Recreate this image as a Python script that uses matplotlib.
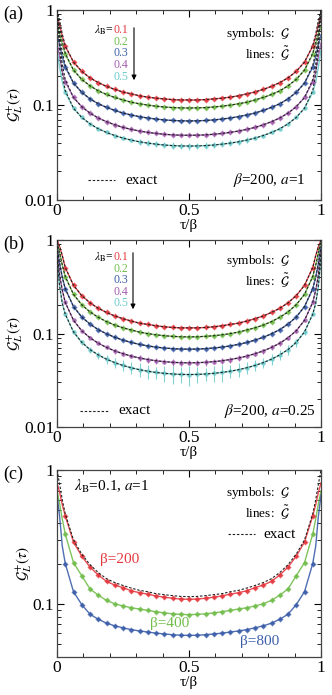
import matplotlib
matplotlib.use("Agg")
import matplotlib.pyplot as plt
from matplotlib.ticker import FixedLocator, LogLocator, NullFormatter, FixedFormatter

plt.rcParams['font.family'] = ['Liberation Serif', 'DejaVu Serif']
plt.rcParams['mathtext.fontset'] = 'stix'

W, H = 332, 695

# ---------------- data ----------------
tau = [0, 0.01, 0.02, 0.03125, 0.0625, 0.09375, 0.125, 0.15625, 0.1875, 0.21875, 0.25,
       0.28125, 0.3125, 0.34375, 0.375, 0.40625, 0.4375, 0.46875, 0.5,
       0.53125, 0.5625, 0.59375, 0.625, 0.65625, 0.6875, 0.71875, 0.75, 0.78125,
       0.8125, 0.84375, 0.875, 0.90625, 0.9375, 0.96875, 0.98, 0.99, 1]

lambda_labels = ['0.1', '0.2', '0.3', '0.4', '0.5']

# panel (a): beta=200, a=1
a_l1 = [0.85, 0.70, 0.53, 0.415, 0.283, 0.226, 0.193, 0.172, 0.157, 0.146, 0.137, 0.131, 0.125, 0.121, 0.118, 0.116, 0.114, 0.113, 0.113,
        0.113, 0.114, 0.116, 0.118, 0.121, 0.125, 0.131, 0.137, 0.146, 0.157, 0.172, 0.193, 0.226, 0.283, 0.415, 0.53, 0.70, 0.85]
a_l2 = [0.67, 0.56, 0.44, 0.341, 0.233, 0.186, 0.159, 0.141, 0.129, 0.120, 0.113, 0.107, 0.103, 0.0998, 0.0972, 0.0953, 0.094, 0.0933, 0.093,
        0.0933, 0.094, 0.0953, 0.0972, 0.0998, 0.103, 0.107, 0.113, 0.120, 0.129, 0.141, 0.159, 0.186, 0.233, 0.341, 0.44, 0.56, 0.67]
a_l3 = [0.55, 0.43, 0.32, 0.250, 0.170, 0.136, 0.116, 0.103, 0.0945, 0.0877, 0.0823, 0.0785, 0.0754, 0.0730, 0.0711, 0.0697, 0.0687, 0.0682, 0.068,
        0.0682, 0.0687, 0.0697, 0.0711, 0.0730, 0.0754, 0.0785, 0.0823, 0.0877, 0.0945, 0.103, 0.116, 0.136, 0.170, 0.250, 0.32, 0.43, 0.55]
a_l4 = [0.45, 0.32, 0.226, 0.176, 0.120, 0.096, 0.0821, 0.073, 0.0667, 0.0619, 0.0581, 0.0554, 0.0532, 0.0515, 0.0502, 0.0492, 0.0485, 0.0481, 0.048,
        0.0481, 0.0485, 0.0492, 0.0502, 0.0515, 0.0532, 0.0554, 0.0581, 0.0619, 0.0667, 0.073, 0.0821, 0.096, 0.120, 0.176, 0.226, 0.32, 0.45]
a_l5 = [0.38, 0.25, 0.174, 0.136, 0.0925, 0.074, 0.0633, 0.0562, 0.0514, 0.0477, 0.0448, 0.0427, 0.0410, 0.0397, 0.0387, 0.0379, 0.0374, 0.0371, 0.037,
        0.0371, 0.0374, 0.0379, 0.0387, 0.0397, 0.0410, 0.0427, 0.0448, 0.0477, 0.0514, 0.0562, 0.0633, 0.074, 0.0925, 0.136, 0.174, 0.25, 0.38]
a_e1 = [1.0, 0.78, 0.56, 0.42, 0.283, 0.226, 0.193, 0.172, 0.157, 0.146, 0.137, 0.131, 0.125, 0.121, 0.118, 0.116, 0.114, 0.113, 0.113,
        0.113, 0.114, 0.116, 0.118, 0.121, 0.125, 0.131, 0.137, 0.146, 0.157, 0.172, 0.193, 0.226, 0.283, 0.42, 0.56, 0.78, 1.0]
a_e2 = [1.0, 0.66, 0.47, 0.35, 0.233, 0.186, 0.159, 0.141, 0.129, 0.120, 0.113, 0.107, 0.103, 0.0998, 0.0972, 0.0953, 0.094, 0.0933, 0.093,
        0.0933, 0.094, 0.0953, 0.0972, 0.0998, 0.103, 0.107, 0.113, 0.120, 0.129, 0.141, 0.159, 0.186, 0.233, 0.35, 0.47, 0.66, 1.0]
a_e3 = [1.0, 0.55, 0.36, 0.26, 0.170, 0.136, 0.116, 0.103, 0.0945, 0.0877, 0.0823, 0.0785, 0.0754, 0.0730, 0.0711, 0.0697, 0.0687, 0.0682, 0.068,
        0.0682, 0.0687, 0.0697, 0.0711, 0.0730, 0.0754, 0.0785, 0.0823, 0.0877, 0.0945, 0.103, 0.116, 0.136, 0.170, 0.26, 0.36, 0.55, 1.0]
a_e4 = [1.0, 0.45, 0.27, 0.185, 0.120, 0.096, 0.0821, 0.073, 0.0667, 0.0619, 0.0581, 0.0554, 0.0532, 0.0515, 0.0502, 0.0492, 0.0485, 0.0481, 0.048,
        0.0481, 0.0485, 0.0492, 0.0502, 0.0515, 0.0532, 0.0554, 0.0581, 0.0619, 0.0667, 0.073, 0.0821, 0.096, 0.120, 0.185, 0.27, 0.45, 1.0]
a_e5 = [1.0, 0.38, 0.21, 0.142, 0.0925, 0.074, 0.0633, 0.0562, 0.0514, 0.0477, 0.0448, 0.0427, 0.0410, 0.0397, 0.0387, 0.0379, 0.0374, 0.0371, 0.037,
        0.0371, 0.0374, 0.0379, 0.0387, 0.0397, 0.0410, 0.0427, 0.0448, 0.0477, 0.0514, 0.0562, 0.0633, 0.074, 0.0925, 0.142, 0.21, 0.38, 1.0]
a_err5 = [0.004, 0.003, 0.002, 0.002, 0.002, 0.002, 0.002, 0.002, 0.002, 0.003, 0.003, 0.003, 0.003, 0.003, 0.003, 0.003,
          0.003, 0.003, 0.003, 0.003, 0.003, 0.003, 0.003, 0.002, 0.002, 0.002, 0.002, 0.002, 0.002, 0.003, 0.004]

# panel (b): beta=200, a=0.25
b_l1 = [1.0, 0.85, 0.68, 0.508, 0.328, 0.254, 0.213, 0.186, 0.168, 0.154, 0.144, 0.136, 0.129, 0.125, 0.121, 0.118, 0.116, 0.115, 0.115,
        0.115, 0.116, 0.118, 0.121, 0.125, 0.129, 0.136, 0.144, 0.154, 0.168, 0.186, 0.213, 0.254, 0.328, 0.508, 0.68, 0.85, 1.0]
b_l2 = [0.95, 0.72, 0.54, 0.407, 0.262, 0.203, 0.170, 0.149, 0.134, 0.123, 0.115, 0.109, 0.1035, 0.0997, 0.0968, 0.0947, 0.0932, 0.0923, 0.092,
        0.0923, 0.0932, 0.0947, 0.0968, 0.0997, 0.1035, 0.109, 0.115, 0.123, 0.134, 0.149, 0.170, 0.203, 0.262, 0.407, 0.54, 0.72, 0.95]
b_l3 = [0.85, 0.56, 0.40, 0.301, 0.194, 0.150, 0.126, 0.110, 0.0993, 0.0911, 0.085, 0.0802, 0.0765, 0.0737, 0.0715, 0.070, 0.0689, 0.0682, 0.068,
        0.0682, 0.0689, 0.070, 0.0715, 0.0737, 0.0765, 0.0802, 0.085, 0.0911, 0.0993, 0.110, 0.126, 0.150, 0.194, 0.301, 0.40, 0.56, 0.85]
b_l4 = [0.75, 0.42, 0.29, 0.215, 0.1385, 0.107, 0.090, 0.0787, 0.071, 0.0651, 0.0608, 0.0573, 0.0547, 0.0527, 0.0511, 0.050, 0.0492, 0.0487, 0.0486,
        0.0487, 0.0492, 0.050, 0.0511, 0.0527, 0.0547, 0.0573, 0.0608, 0.0651, 0.071, 0.0787, 0.090, 0.107, 0.1385, 0.215, 0.29, 0.42, 0.75]
b_l5 = [0.65, 0.32, 0.21, 0.161, 0.104, 0.0804, 0.0673, 0.059, 0.0531, 0.0488, 0.0455, 0.043, 0.041, 0.0395, 0.0383, 0.0375, 0.0369, 0.0365, 0.0364,
        0.0365, 0.0369, 0.0375, 0.0383, 0.0395, 0.041, 0.043, 0.0455, 0.0488, 0.0531, 0.059, 0.0673, 0.0804, 0.104, 0.161, 0.21, 0.32, 0.65]
b_err4 = [0.006, 0.004, 0.003, 0.003, 0.003, 0.003, 0.004, 0.004, 0.003, 0.004, 0.004, 0.004, 0.003, 0.004, 0.004, 0.003,
          0.004, 0.004, 0.003, 0.004, 0.004, 0.004, 0.003, 0.004, 0.004, 0.004, 0.005, 0.005, 0.006, 0.005, 0.006]
b_err5 = [0.008, 0.006, 0.005, 0.005, 0.005, 0.006, 0.006, 0.006, 0.006, 0.007, 0.007, 0.006, 0.007, 0.008, 0.007, 0.009,
          0.007, 0.006, 0.007, 0.008, 0.006, 0.007, 0.006, 0.006, 0.006, 0.007, 0.007, 0.008, 0.008, 0.007, 0.008]

# panel (c): lambda_B=0.1, a=1
c_labels = ['\u03b2=200', '\u03b2=400', '\u03b2=800']
c_200 = [0.8, 0.68, 0.55, 0.454, 0.289, 0.227, 0.188, 0.164, 0.147, 0.138, 0.132, 0.125, 0.121, 0.118, 0.1145, 0.112, 0.110, 0.1085, 0.108,
         0.1085, 0.110, 0.112, 0.1145, 0.118, 0.121, 0.125, 0.132, 0.138, 0.147, 0.164, 0.188, 0.227, 0.289, 0.454, 0.55, 0.68, 0.8]
c_400 = [0.7, 0.56, 0.43, 0.332, 0.203, 0.162, 0.129, 0.116, 0.106, 0.100, 0.0963, 0.0934, 0.0913, 0.0892, 0.0872, 0.0855, 0.0842, 0.0833, 0.083,
         0.0833, 0.0842, 0.0855, 0.0872, 0.0892, 0.0913, 0.0934, 0.0963, 0.100, 0.106, 0.116, 0.129, 0.162, 0.203, 0.332, 0.43, 0.56, 0.7]
c_800 = [0.65, 0.45, 0.27, 0.200, 0.123, 0.0986, 0.0835, 0.0766, 0.0716, 0.0684, 0.0661, 0.0641, 0.0626, 0.0615, 0.0603, 0.0595, 0.0587, 0.0582, 0.058,
         0.0582, 0.0587, 0.0595, 0.0603, 0.0615, 0.0626, 0.0641, 0.0661, 0.0684, 0.0716, 0.0766, 0.0835, 0.0986, 0.123, 0.200, 0.27, 0.45, 0.65]
c_exact = [1.0, 0.78, 0.6, 0.47, 0.30, 0.235, 0.196, 0.171, 0.154, 0.144, 0.137, 0.131, 0.126, 0.123, 0.119, 0.117, 0.115, 0.1135, 0.113,
           0.1135, 0.115, 0.117, 0.119, 0.123, 0.126, 0.131, 0.137, 0.144, 0.154, 0.171, 0.196, 0.235, 0.30, 0.47, 0.6, 0.78, 1.0]

colors = ['#e5383f', '#72bd4c', '#3c5ea9', '#a35cae', '#6ccaca']

# ---------------- figure ----------------
fig = plt.figure(figsize=(W / 100, H / 100), dpi=100)


def fpos(x, y):
    return x / W, 1 - y / H


def make_axes(top, bottom, left=57, right=321):
    return fig.add_axes([left / W, 1 - bottom / H, (right - left) / W, (bottom - top) / H])


def style_axes(ax, ylim, yticks, ylabels):
    ax.set_yscale('log')
    ax.set_xlim(0, 1)
    ax.set_ylim(*ylim)
    ax.xaxis.set_major_locator(FixedLocator([0, 0.5, 1]))
    ax.xaxis.set_minor_locator(FixedLocator([0.1, 0.2, 0.3, 0.4, 0.6, 0.7, 0.8, 0.9]))
    ax.set_xticklabels(['0', '0.5', '1'])
    ax.yaxis.set_major_locator(FixedLocator(yticks))
    ax.yaxis.set_major_formatter(FixedFormatter(ylabels))
    ax.yaxis.set_minor_locator(LogLocator(base=10, subs=[2, 3, 4, 5, 6, 7, 8, 9]))
    ax.yaxis.set_minor_formatter(NullFormatter())
    ax.tick_params(which='both', direction='in', top=True, right=True, labelsize=12.5, pad=2)
    ax.tick_params(which='major', length=5, width=0.8)
    ax.tick_params(which='minor', length=3, width=0.6)
    for s in ax.spines.values():
        s.set_linewidth(0.9)
        s.set_color('#444444')
    ax.set_xlabel('\u03c4/\u03b2', fontsize=11, labelpad=0)
    ax.set_ylabel(r'$\mathcal{G}_L^{+}(\tau)$', fontsize=11, labelpad=-1)


sym_tau = tau[3:-3]


def draw_curve(ax, y, color, err=None, exact=None, ms=3.2):
    ax.plot(tau, y, '-', color=color, lw=1.0, zorder=2, alpha=0.9)
    ys = y[3:-3]
    if err is not None:
        ax.errorbar(sym_tau, ys, yerr=err, fmt='o', color=color, ms=ms, mew=0,
                    elinewidth=0.8, capsize=1.5, capthick=0.6, zorder=3, alpha=0.85)
    else:
        ax.plot(sym_tau, ys, 'o', color=color, ms=ms, mew=0, zorder=3, alpha=0.9)
        ax.plot(sym_tau, ys, '+', color=color, ms=4, mew=0.6, zorder=3, alpha=0.6)
    if exact is not None:
        ax.plot(tau, exact, color='#222222', lw=0.8, ls=(0, (2.2, 1.6)), zorder=4)


# ---- panel (a) ----
axA = make_axes(10, 200)
style_axes(axA, (0.01, 1), [0.01, 0.1, 1], ['0.01', '0.1', '1'])
a_lines = [a_l1, a_l2, a_l3, a_l4, a_l5]
a_exact = [a_e1, a_e2, a_e3, a_e4, a_e5]
for i in range(5):
    draw_curve(axA, a_lines[i], colors[i], err=a_err5 if i == 4 else None, exact=a_exact[i])

# ---- panel (b) ----
axB = make_axes(240, 427)
style_axes(axB, (0.01, 1), [0.01, 0.1, 1], ['0.01', '0.1', '1'])
b_lines = [b_l1, b_l2, b_l3, b_l4, b_l5]
b_errs = [None, None, None, b_err4, b_err5]
for i in range(5):
    draw_curve(axB, b_lines[i], colors[i], err=b_errs[i], exact=b_lines[i])

# ---- panel (c) ----
axC = make_axes(470, 657)
style_axes(axC, (0.04, 1), [0.1, 1], ['0.1', '1'])
draw_curve(axC, c_200, colors[0], exact=c_exact)
draw_curve(axC, c_400, colors[1])
draw_curve(axC, c_800, colors[2])

# ---------------- annotations ----------------
def ftext(x, y, s, **kw):
    fig.text(*fpos(x, y), s, **kw)


for (lab, y0) in [('(a)', 14), ('(b)', 244), ('(c)', 474)]:
    ftext(3, y0, lab, fontsize=13, va='center', ha='left')

# lambda legends in (a) and (b)
for base, dy in [(30, 11.7), (257, 11.6)]:
    ftext(114, base, r'$\lambda_{\rm B}$=', fontsize=8.5, ha='right', va='center')
    for i, lab in enumerate(lambda_labels):
        ftext(114, base + i * dy, lab, fontsize=8.5, ha='left', va='center', color=colors[i])

for (x, y0, y1) in [(134, 25, 83), (133, 250, 312)]:
    fig.add_artist(matplotlib.patches.FancyArrowPatch(fpos(x, y0), fpos(x, y1),
                   transform=fig.transFigure, arrowstyle='-|>', mutation_scale=7,
                   color='black', lw=0.8))

# symbols / lines labels
for (ys, yl) in [(34, 53), (261, 280), (493, 512)]:
    ftext(290, ys, r'symbols:  $\mathcal{G}$', fontsize=9.5, ha='right', va='center')
    ftext(290, yl, r'lines:  $\tilde{\mathcal{G}}$', fontsize=9.5, ha='right', va='center')

# exact legends
for (x0, x1, y, xt) in [(88, 115, 180, 125), (80, 108, 411, 118), (228, 255, 534, 263)]:
    fig.add_artist(matplotlib.lines.Line2D([x0 / W, x1 / W], [1 - y / H, 1 - y / H],
                   transform=fig.transFigure, color='#222222', lw=0.8, ls=(0, (2.2, 1.6))))
    ftext(xt, y, 'exact', fontsize=11, ha='left', va='center')

ftext(305, 180, r'$\beta$=200, $a$=1', fontsize=11, ha='right', va='center')
ftext(316, 411, r'$\beta$=200, $a$=0.25', fontsize=11, ha='right', va='center')
ftext(74, 486, r'$\lambda_{\rm B}$=0.1, $a$=1', fontsize=11, ha='left', va='center')

ftext(100, 559, c_labels[0], fontsize=11, ha='left', va='center', color=colors[0])
ftext(150, 624, c_labels[1], fontsize=11, ha='left', va='center', color=colors[1])
ftext(240, 642, c_labels[2], fontsize=11, ha='left', va='center', color=colors[2])

fig.savefig('out.png', dpi=100)
